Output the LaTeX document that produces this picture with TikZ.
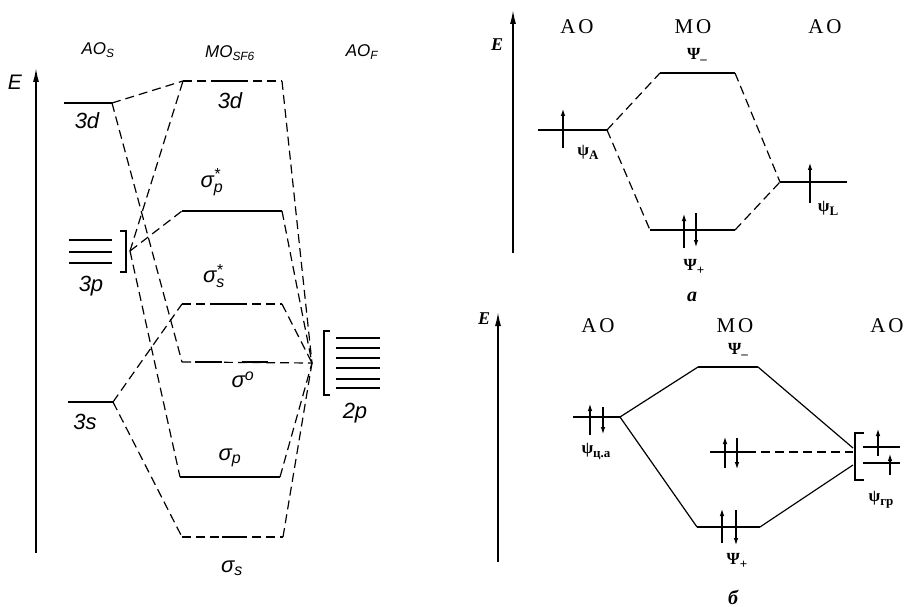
\documentclass[tikz,border=0pt]{standalone}
\usepackage{fontspec}
\setmainfont{Liberation Serif}
\newfontfamily\handfont{Liberation Sans}
\usetikzlibrary{arrows.meta}
\newcommand{\psub}[1]{\raisebox{-4pt}{\fontsize{13}{14}\selectfont #1}}

\begin{document}
\begin{tikzpicture}[x=1pt, y=-1pt,
  link/.style={dash pattern=on 9pt off 5pt, line width=1.2pt},
  level/.style={line width=2.8pt},
  lvl/.style={line width=2.4pt},
  axis/.style={-{Latex[length=14pt,width=6pt]}, line width=1.5pt},
  spin/.style={-{Latex[length=8pt,width=4.5pt]}, line width=1.6pt},
  lab/.style={font=\handfont\itshape\fontsize{22}{24}\selectfont},
  top/.style={font=\handfont\itshape\fontsize{17}{19}\selectfont},
  hdr/.style={font=\fontsize{21}{24}\selectfont},
  psi/.style={font=\bfseries\fontsize{17}{20}\selectfont},
  caption/.style={font=\itshape\bfseries\fontsize{20}{22}\selectfont}]
\useasboundingbox (0,0) rectangle (908,607);

% left: SF6
\draw[axis] (36,553) -- (36,68);
\node[top, font=\handfont\itshape\fontsize{21}{23}\selectfont] (El) at (15,82) {E};
\node[top] (hAOS) at (98,50) {AO\textsubscript{S}};
\node[top] (hMO) at (230,53) {MO\textsubscript{SF6}};
\node[top] (hAOF) at (362,52) {AO\textsubscript{F}};

\coordinate (s3dL) at (64,103);  \coordinate (s3dR) at (112,103);
\coordinate (s3p) at (130,251);
\coordinate (s3sL) at (68,402);  \coordinate (s3sR) at (113,402);
\coordinate (m3dL) at (183,81);  \coordinate (m3dR) at (282,81);
\coordinate (mpsL) at (182,211); \coordinate (mpsR) at (282,211);
\coordinate (mssL) at (182,304); \coordinate (mssR) at (282,304);
\coordinate (mnL) at (182,362);
\coordinate (mpL) at (180,477);  \coordinate (mpR) at (280,477);
\coordinate (msL) at (182,537);  \coordinate (msR) at (283,537);
\coordinate (f2p) at (312,363);

% atomic levels of S
\draw[level] (s3dL) -- (s3dR);
\foreach \y in {240,252,263} \draw[line width=1.8pt] (69,\y) -- (112,\y);
\draw[line width=1.3pt] (120,231) -- (126,231) -- (126,272) -- (120,272);
\draw[level] (s3sL) -- (s3sR);

% molecular levels
\draw[link] (m3dL) -- (m3dR);
\draw[level] (217,81) -- (245,81);
\draw[level] (mpsL) -- (mpsR);
\draw[link] (mssL) -- (mssR);
\draw[level] (217,304) -- (240,304);
\draw[link] (mnL) -- (f2p);
\draw[level] (195,362) -- (222,362);
\draw[level] (242,362) -- (268,362);
\draw[level] (mpL) -- (mpR);
\draw[link] (msL) -- (msR);
\draw[level] (222,537) -- (243,537);

% atomic levels of F
\draw[line width=1.3pt] (330,331) -- (324,331) -- (324,395) -- (330,395);
\foreach \y in {338,348,358,368,379,388} \draw[line width=1.8pt] (336,\y) -- (380,\y);

% correlation lines
\draw[link] (s3dR) -- (m3dL);
\draw[link] (s3dR) -- (mnL);
\draw[link] (s3p) -- (m3dL);
\draw[link] (s3p) -- (mpsL);
\draw[link] (s3p) -- (mpL);
\draw[link] (s3sR) -- (mssL);
\draw[link] (s3sR) -- (msL);
\foreach \c in {m3dR,mpsR,mssR,mpR,msR}
  \draw[link] (\c) -- (f2p);

\node[lab] (l3dS) at (87,121) {3d};
\node[lab] (l3dM) at (230,101) {3d};
\node[lab] (l3p) at (91,286) {3p};
\node[lab] (l3s) at (85,422) {3s};
\node[lab] (l2p) at (355,413) {2p};
\node[lab] (lps) at (212,182) {σ$^{\hbox{\fontsize{16}{16}\selectfont *}}_{\hbox{\fontsize{16}{16}\selectfont p}}$};
\node[lab] (lss) at (214,276) {σ$^{\hbox{\fontsize{16}{16}\selectfont *}}_{\hbox{\fontsize{16}{16}\selectfont s}}$};
\node[lab] (ln) at (243,380) {σ$^{\hbox{\fontsize{16}{16}\selectfont o}}$};
\node[lab] (lp) at (230,458) {σ$_{\hbox{\fontsize{16}{16}\selectfont p}}$};
\node[lab] (ls) at (232,568) {σ$_{\hbox{\fontsize{16}{16}\selectfont s}}$};

% right top: a
\draw[axis] (513,253) -- (513,10);
\node[caption, font=\itshape\bfseries\fontsize{18}{20}\selectfont] (Ea) at (497,45) {E};
\node[hdr] (haA) at (577,27) {A\kern3pt O};
\node[hdr] (haM) at (693,27) {M\kern3pt O};
\node[hdr] (haL) at (825,27) {A\kern3pt O};

\coordinate (aAL) at (538,130); \coordinate (aAR) at (607,130);
\coordinate (amL) at (660,73);  \coordinate (amR) at (735,73);
\coordinate (apL) at (650,230); \coordinate (apR) at (735,230);
\coordinate (aLL) at (780,182); \coordinate (aLR) at (847,182);

\draw[lvl] (aAL) -- (aAR);
\draw[lvl] (amL) -- (amR);
\draw[lvl] (apL) -- (apR);
\draw[lvl] (aLL) -- (aLR);
\draw[link] (aAR) -- (amL);
\draw[link] (aAR) -- (apL);
\draw[link] (amR) -- (aLL);
\draw[link] (apR) -- (aLL);

\draw[spin] (563,148) -- (563,108);
\draw[spin] (684,248) -- (684,213);
\draw[spin] (696,213) -- (696,248);
\draw[spin] (810,203) -- (810,162);

\node[psi] (lam) at (697,56) {Ψ\psub{--}};
\node[psi] (laA) at (588,152) {ψ\psub{A}};
\node[psi] (lap) at (694,267) {Ψ\psub{+}};
\node[psi] (laL) at (828,208) {ψ\psub{L}};
\node[caption] (capa) at (692,297) {a};

% right bottom: b
\draw[axis] (498,562) -- (498,312);
\node[caption, font=\itshape\bfseries\fontsize{18}{20}\selectfont] (Eb) at (484,319) {E};
\node[hdr] (hbA) at (598,326) {A\kern3pt O};
\node[hdr] (hbM) at (735,326) {M\kern3pt O};
\node[hdr] (hbL) at (887,326) {A\kern3pt O};

\coordinate (bAL) at (573,417); \coordinate (bAR) at (620,417);
\coordinate (bmL) at (698,367); \coordinate (bmR) at (758,367);
\coordinate (bnL) at (710,452); \coordinate (bnR) at (747,452);
\coordinate (bpL) at (697,527); \coordinate (bpR) at (760,527);
\coordinate (brT) at (853,448); \coordinate (brM) at (853,452);
\coordinate (brB) at (853,465);

\draw[lvl] (bAL) -- (bAR);
\draw[lvl] (bmL) -- (bmR);
\draw[lvl] (bnL) -- (bnR);
\draw[lvl] (bpL) -- (bpR);
\draw[line width=1.3pt] (864,433) -- (855,433) -- (855,480) -- (864,480);
\draw[lvl] (863,447) -- (900,447);
\draw[lvl] (863,463) -- (900,463);
\draw[line width=1.2pt] (bAR) -- (bmL);
\draw[line width=1.2pt] (bAR) -- (bpL);
\draw[line width=1.2pt] (bmR) -- (brT);
\draw[line width=1.2pt] (bpR) -- (brB);
\draw[link] (bnR) -- (brM);

\draw[spin] (590,435) -- (590,403);
\draw[spin] (603,407) -- (603,435);
\draw[spin] (725,468) -- (725,436);
\draw[spin] (737,438) -- (737,470);
\draw[spin] (722,543) -- (722,508);
\draw[spin] (736,510) -- (736,546);
\draw[spin] (878,456) -- (878,428);
\draw[spin] (890,475) -- (890,453);

\node[psi] (lbm) at (738,351) {Ψ\psub{--}};
\node[psi] (lbA) at (596,452) {ψ\psub{ц.а}};
\node[psi] (lbp) at (737,561) {Ψ\psub{+}};
\node[psi] (lbg) at (881,500) {ψ\psub{гр}};
\node[caption] (capb) at (733,597) {б};
\end{tikzpicture}
\end{document}
